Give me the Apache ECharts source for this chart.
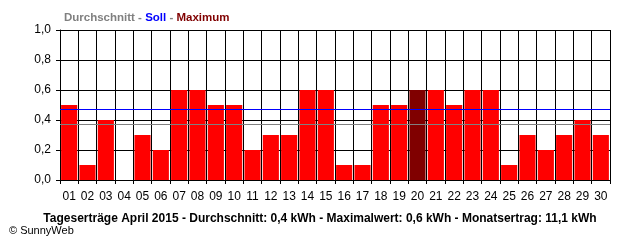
<!DOCTYPE html>
<html>
<head>
<meta charset="utf-8">
<script src="https://cdn.jsdelivr.net/npm/echarts@6/dist/echarts.min.js"></script>
<style>html,body{margin:0;padding:0;background:#fff}#c{width:640px;height:240px}</style>
</head>
<body>
<div id="c"></div>
<script>
const days = ['01','02','03','04','05','06','07','08','09','10','11','12','13','14','15','16','17','18','19','20','21','22','23','24','25','26','27','28','29','30'];
const yields = [0.5,0.1,0.4,0,0.3,0.2,0.6,0.6,0.5,0.5,0.2,0.3,0.3,0.6,0.6,0.1,0.1,0.5,0.5,0.6,0.6,0.5,0.6,0.6,0.1,0.3,0.2,0.3,0.4,0.3];
const maxDay = '20';
const avgValue = 0.37;
const sollValue = 0.47;
const yTicks = [0, 0.2, 0.4, 0.6, 0.8, 1.0];
const footer = 'Tageserträge April 2015 - Durchschnitt: 0,4 kWh - Maximalwert: 0,6 kWh - Monatsertrag: 11,1 kWh';

const font = '"Liberation Sans", Arial, sans-serif';
const chart = echarts.init(document.getElementById('c'));
chart.setOption({
  animation: false,
  backgroundColor: '#fff',
  title: [
    {
      text: '{a|Durchschnitt} {s|-} {b|Soll} {s|-} {c|Maximum}',
      left: 59, top: 7,
      textStyle: {
        fontFamily: font, fontSize: 11.5, fontWeight: 'bold',
        rich: {
          a: {color: '#808080', fontFamily: font, fontSize: 11.5, fontWeight: 'bold'},
          s: {color: '#808080', fontFamily: font, fontSize: 11.5, fontWeight: 'bold'},
          b: {color: '#0000ff', fontFamily: font, fontSize: 11.5, fontWeight: 'bold'},
          c: {color: '#800000', fontFamily: font, fontSize: 11.5, fontWeight: 'bold'}
        }
      }
    },
    {
      text: footer, left: 'center', top: 208,
      textStyle: {fontFamily: font, fontSize: 12, fontWeight: 'bold', color: '#000'}
    },
    {
      text: '© SunnyWeb', left: 4, top: 220,
      textStyle: {fontFamily: font, fontSize: 11, fontWeight: 'normal', color: '#000'}
    }
  ],
  grid: {left: 60, right: 30, top: 30, bottom: 60},
  xAxis: {
    type: 'category',
    data: days,
    boundaryGap: true,
    axisLine: {show: true, lineStyle: {color: '#000', width: 1}},
    axisTick: {show: true, length: 4, lineStyle: {color: '#000'}},
    axisLabel: {color: '#000', fontFamily: font, fontSize: 12, margin: 11, interval: 0},
    splitLine: {show: true, interval: 0, lineStyle: {color: '#000', width: 1}}
  },
  yAxis: {
    type: 'value',
    min: 0, max: 1, interval: 0.2,
    axisLine: {show: true, lineStyle: {color: '#000', width: 1}},
    axisTick: {show: true, length: 4, lineStyle: {color: '#000'}},
    axisLabel: {color: '#000', fontFamily: font, fontSize: 12, margin: 9,
      formatter: v => v.toFixed(1).replace('.', ',')},
    splitLine: {show: true, lineStyle: {color: '#000', width: 1}}
  },
  series: [{
    type: 'bar',
    barCategoryGap: '12%',
    data: yields.map((v, i) => ({
      value: v,
      itemStyle: {color: days[i] === maxDay ? '#800000' : '#ff0000'}
    })),
    markLine: {
      silent: true, symbol: 'none',
      label: {show: false},
      data: [
        {yAxis: avgValue, lineStyle: {color: '#808080', width: 1, type: 'solid'}},
        {yAxis: sollValue, lineStyle: {color: '#0000ff', width: 1, type: 'solid'}}
      ]
    }
  }]
});
</script>
</body>
</html>
